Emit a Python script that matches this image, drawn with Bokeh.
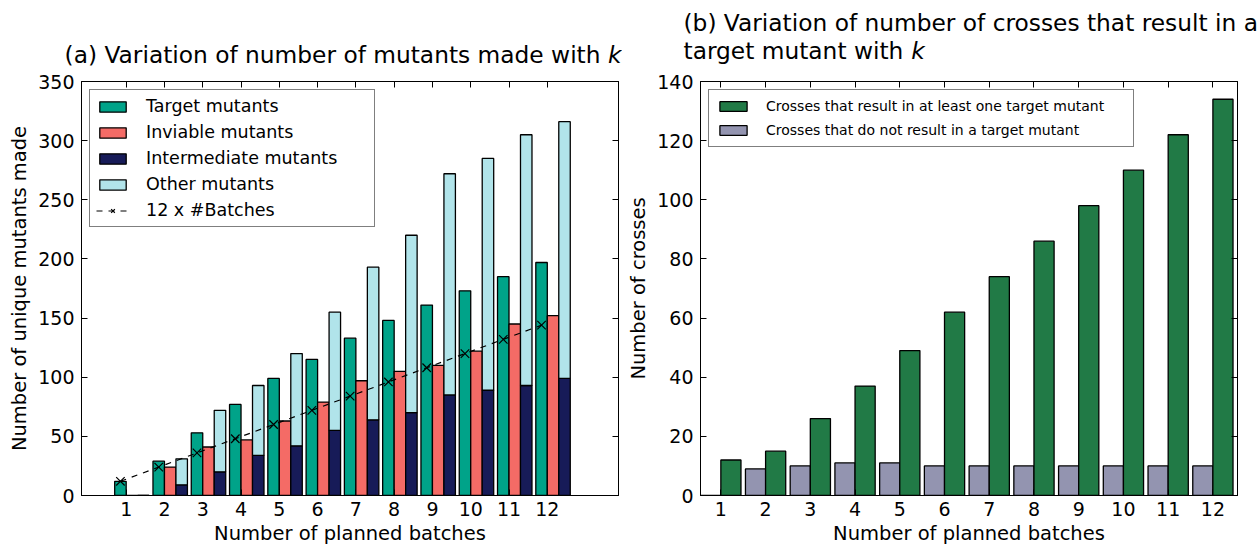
from bokeh.plotting import figure
from bokeh.layouts import row, column
from bokeh.models import (Range1d, FixedTicker, LinearAxis, Legend, LegendItem,
                          Label, CustomJSTickFormatter, ColumnDataSource)
from bokeh.embed import file_html
from bokeh.resources import INLINE

# ---- data -------------------------------------------------------------
batches = [1, 2, 3, 4, 5, 6, 7, 8, 9, 10, 11, 12]

# (a) unique mutants made per number of planned batches
target_mutants = [12, 29, 53, 77, 99, 115, 133, 148, 161, 173, 185, 197]
inviable_mutants = [0, 24, 41, 47, 63, 79, 97, 105, 110, 122, 145, 152]
intermediate_mutants = [0, 9, 20, 34, 42, 55, 64, 70, 85, 89, 93, 99]
other_mutants = [0, 22, 52, 59, 78, 100, 129, 150, 187, 196, 212, 217]
twelve_per_batch = [12, 24, 36, 48, 60, 72, 84, 96, 108, 120, 132, 144]

# (b) crosses per number of planned batches
hit_crosses = [12, 15, 26, 37, 49, 62, 74, 86, 98, 110, 122, 134]
miss_crosses = [0, 9, 10, 11, 11, 10, 10, 10, 10, 10, 10, 10]

FONT = "DejaVu Sans"
C_TARGET = "#00A389"
C_INVIABLE = "#F46B66"
C_INTER = "#171B58"
C_OTHER = "#B1E4EA"
C_HIT = "#217A46"
C_MISS = "#9394B0"

TITLE_H = 70          # height of the strip that carries each panel title
LEFT_W, RIGHT_W = 622, 638

blank = CustomJSTickFormatter(code="return ''")


def mirror_axis(ticks):
    return LinearAxis(ticker=FixedTicker(ticks=ticks), formatter=blank,
                      major_tick_in=6, major_tick_out=0, minor_tick_line_color=None,
                      major_label_standoff=0, major_label_text_font_size="0px",
                      axis_line_color="black", major_tick_line_color="black")


def style_axes(p, xticks, yticks, xlabel, ylabel):
    xa, ya = p.below[0], p.left[0]
    xa.ticker = FixedTicker(ticks=xticks)
    ya.ticker = FixedTicker(ticks=yticks)
    xa.axis_label = xlabel
    ya.axis_label = ylabel
    for ax in (xa, ya):
        ax.major_tick_in = 6
        ax.major_tick_out = 0
        ax.minor_tick_line_color = None
        ax.axis_line_color = "black"
        ax.major_tick_line_color = "black"
        ax.major_label_text_font = FONT
        ax.major_label_text_font_size = "19px"
        ax.major_label_text_color = "black"
        ax.axis_label_text_font = FONT
        ax.axis_label_text_font_size = "19.5px"
        ax.axis_label_text_font_style = "normal"
        ax.axis_label_text_color = "black"
    xa.major_label_standoff = 6
    xa.axis_label_standoff = 3
    ya.major_label_standoff = 7
    ya.axis_label_standoff = 4
    # inward ticks repeated on the top and right edges
    p.add_layout(mirror_axis(xticks), "above")
    p.add_layout(mirror_axis(yticks), "right")


def base_figure(width, x_range, y_range, border_left, border_right):
    p = figure(width=width, height=547 - TITLE_H, x_range=x_range, y_range=y_range,
               output_backend="svg", toolbar_location=None, frame_align=False,
               min_border_left=border_left, min_border_right=border_right,
               min_border_top=81 - TITLE_H, min_border_bottom=52)
    p.grid.visible = False
    p.outline_line_color = "black"
    p.outline_line_width = 1
    p.background_fill_color = "white"
    p.border_fill_color = "white"
    return p


def title_strip(width):
    # pixel-based canvas: x to the right, y downwards
    t = figure(width=width, height=TITLE_H, x_range=Range1d(0, width),
               y_range=Range1d(TITLE_H, 0), x_axis_type=None, y_axis_type=None,
               output_backend="svg", toolbar_location=None, frame_align=False,
               min_border=0, min_border_left=0, min_border_right=0,
               min_border_top=0, min_border_bottom=0)
    t.grid.visible = False
    t.outline_line_color = None
    t.background_fill_color = "white"
    t.border_fill_color = "white"
    return t


title_kw = dict(text_font=FONT, text_font_size="23.3px", text_color="black",
                text_baseline="alphabetic")

# ---- (a) mutants --------------------------------------------------------
p1 = base_figure(LEFT_W, Range1d(-0.167, 13.86), Range1d(0, 350), 81, 4)

src_a = ColumnDataSource(dict(
    x_target=[k - 0.15 for k in batches],
    x_inviable=[k + 0.15 for k in batches],
    x_rest=[k + 0.45 for k in batches],
    target=target_mutants,
    inviable=inviable_mutants,
    inter=intermediate_mutants,
    other_top=[i + o for i, o in zip(intermediate_mutants, other_mutants)],
    expected=twelve_per_batch,
))

bar_kw = dict(source=src_a, width=0.3, line_color="black", line_width=1.3)
r_target = p1.vbar(x="x_target", top="target", fill_color=C_TARGET, **bar_kw)
r_inviable = p1.vbar(x="x_inviable", top="inviable", fill_color=C_INVIABLE, **bar_kw)
r_inter = p1.vbar(x="x_rest", top="inter", fill_color=C_INTER, **bar_kw)
r_other = p1.vbar(x="x_rest", bottom="inter", top="other_top", fill_color=C_OTHER, **bar_kw)
r_line = p1.line(x="x_target", y="expected", source=src_a, line_color="black",
                 line_width=1.2, line_dash="6 6")
r_mark = p1.scatter(x="x_target", y="expected", source=src_a, marker="x", size=12,
                    line_color="black", line_width=1.2)

style_axes(p1, batches, [0, 50, 100, 150, 200, 250, 300, 350],
           "Number of planned batches", "Number of unique mutants made")

leg_a = Legend(items=[
    LegendItem(label="Target mutants", renderers=[r_target]),
    LegendItem(label="Inviable mutants", renderers=[r_inviable]),
    LegendItem(label="Intermediate mutants", renderers=[r_inter]),
    LegendItem(label="Other mutants", renderers=[r_other]),
    LegendItem(label="12 x #Batches", renderers=[r_line, r_mark]),
], location="top_left")
leg_a.margin = 8
leg_a.padding = 6
leg_a.spacing = 6
leg_a.label_height = 20
leg_a.label_width = 222
leg_a.glyph_width = 33
leg_a.glyph_height = 13
leg_a.label_standoff = 17
leg_a.border_line_color = "black"
leg_a.border_line_width = 1
leg_a.label_text_font = FONT
leg_a.label_text_font_size = "17.5px"
leg_a.label_text_color = "black"
p1.add_layout(leg_a)

t1 = title_strip(LEFT_W)
t1.add_layout(Label(x=600, y=54, text="(a) Variation of number of mutants made with",
                    text_align="right", **title_kw))
t1.add_layout(Label(x=607.4, y=54, text="k", text_align="left",
                    text_font_style="italic", **title_kw))

# ---- (b) crosses --------------------------------------------------------
p2 = base_figure(RIGHT_W, Range1d(0.545, 12.55), Range1d(0, 140), 78, 23)

src_b = ColumnDataSource(dict(
    x_hit=[k + 0.225 for k in batches],
    x_miss=[k - 0.225 for k in batches],
    hit=hit_crosses,
    miss=miss_crosses,
))
r_miss = p2.vbar(x="x_miss", top="miss", width=0.45, source=src_b,
                 fill_color=C_MISS, line_color="black", line_width=1.3)
r_hit = p2.vbar(x="x_hit", top="hit", width=0.45, source=src_b,
                fill_color=C_HIT, line_color="black", line_width=1.3)

style_axes(p2, batches, [0, 20, 40, 60, 80, 100, 120, 140],
           "Number of planned batches", "Number of crosses")

leg_b = Legend(items=[
    LegendItem(label="Crosses that result in at least one target mutant", renderers=[r_hit]),
    LegendItem(label="Crosses that do not result in a target mutant", renderers=[r_miss]),
], location="top_left")
leg_b.margin = 8
leg_b.padding = 7
leg_b.spacing = 6
leg_b.label_height = 18
leg_b.label_width = 360
leg_b.glyph_width = 34
leg_b.glyph_height = 12
leg_b.label_standoff = 16
leg_b.border_line_color = "black"
leg_b.border_line_width = 1
leg_b.label_text_font = FONT
leg_b.label_text_font_size = "14px"
leg_b.label_text_color = "black"
p2.add_layout(leg_b)

t2 = title_strip(RIGHT_W)
t2.add_layout(Label(x=61, y=22, text="(b) Variation of number of crosses that result in a",
                    text_align="left", **title_kw))
t2.add_layout(Label(x=61, y=50, text="target mutant with",
                    text_align="left", **title_kw))
t2.add_layout(Label(x=288.7, y=50, text="k", text_align="left",
                    text_font_style="italic", **title_kw))

layout = row(column(t1, p1), column(t2, p2))
open("out.html", "w").write(file_html(layout, INLINE))
